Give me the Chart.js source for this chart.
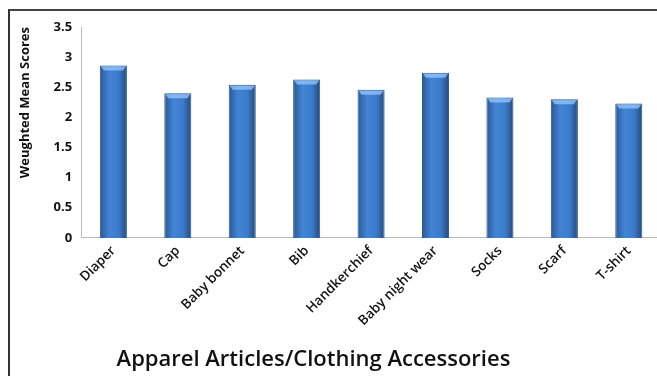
<!DOCTYPE html>
<html>
<head>
<meta charset="utf-8">
<script src="https://cdn.jsdelivr.net/npm/chart.js@4"></script>
<style>
  html, body { margin: 0; padding: 0; background: #fff; overflow: hidden; }
  #wrap { position: relative; width: 661px; height: 376px; }
  #frame { position: absolute; left: 8px; top: 9px; width: 700px; height: 400px;
           border-left: 2px solid #333; border-top: 2px solid #444; }
  #xtitle { position: absolute; left: 0; top: 342px; width: 627px; text-align: center;
            font: 600 22px "Open Sans", sans-serif; color: #111; }
</style>
</head>
<body>
<div id="wrap">
  <div id="frame"></div>
  <canvas id="chart" width="661" height="376"></canvas>
  <div id="xtitle">Apparel Articles/Clothing Accessories</div>
</div>
<script>
// =====================
// Data
// =====================
const categories = ["Diaper", "Cap", "Baby bonnet", "Bib", "Handkerchief", "Baby night wear", "Socks", "Scarf", "T-shirt"];
const scores = [2.86, 2.40, 2.54, 2.63, 2.46, 2.74, 2.33, 2.30, 2.23];
const yTicks = [0, 0.5, 1, 1.5, 2, 2.5, 3, 3.5];

// =====================
// Bar shading
// =====================
function barFill(ctx) {
  const el = ctx.chart.getDatasetMeta(0).data[ctx.dataIndex];
  if (!el || !el.width) return "#3a78c4";
  const x0 = el.x - el.width / 2, x1 = el.x + el.width / 2;
  const g = ctx.chart.ctx.createLinearGradient(x0, 0, x1, 0);
  g.addColorStop(0, "#2a5894");
  g.addColorStop(0.35, "#4285d5");
  g.addColorStop(0.7, "#3b7acb");
  g.addColorStop(1, "#23497a");
  return g;
}

const topCap = {
  id: "topCap",
  afterDatasetsDraw(chart) {
    const c = chart.ctx;
    chart.getDatasetMeta(0).data.forEach(b => {
      const l = b.x - b.width / 2, r = b.x + b.width / 2;
      c.save();
      c.fillStyle = "rgba(150,200,255,0.75)";
      c.beginPath();
      c.moveTo(l + 1, b.y + 1);
      c.lineTo(r - 1, b.y + 1);
      c.lineTo(r - 4, b.y + 5);
      c.lineTo(l + 4, b.y + 5);
      c.closePath();
      c.fill();
      c.restore();
    });
  }
};

// =====================
// Chart.js
// =====================
const chart = new Chart(document.getElementById("chart").getContext("2d"), {
  type: "bar",
  data: {
    labels: categories,
    datasets: [{
      data: scores,
      backgroundColor: barFill,
      borderColor: "#2a5690",
      borderWidth: 1,
      barPercentage: 0.42,
      categoryPercentage: 1
    }]
  },
  options: {
    responsive: false,
    animation: false,
    layout: { padding: { top: 27, right: 0, left: 5, bottom: 42 } },
    plugins: { legend: { display: false }, tooltip: { enabled: false } },
    scales: {
      x: {
        afterFit: axis => { axis.paddingLeft = 0; axis.paddingRight = 0; },
        grid: { display: false, drawTicks: false },
        border: { color: "#bdbdbd", width: 1 },
        ticks: {
          color: "#111", maxRotation: 45, minRotation: 45, padding: 5,
          font: { family: "Open Sans", size: 13.5, weight: "600" }
        }
      },
      y: {
        min: 0, max: 3.5,
        afterBuildTicks: axis => { axis.ticks = yTicks.map(v => ({ value: v })); },
        grid: { display: false, drawTicks: false },
        border: { color: "#bdbdbd", width: 1 },
        title: {
          display: true, text: "Weughted Mean Scores", color: "#111", padding: 12, align: "end",
          font: { family: "Open Sans", size: 13, weight: "bold" }
        },
        ticks: {
          color: "#111", padding: 9,
          callback: v => String(v),
          font: { family: "Open Sans", size: 13, weight: "bold" }
        }
      }
    }
  },
  plugins: [topCap]
});
chart.update();
</script>
</body>
</html>
